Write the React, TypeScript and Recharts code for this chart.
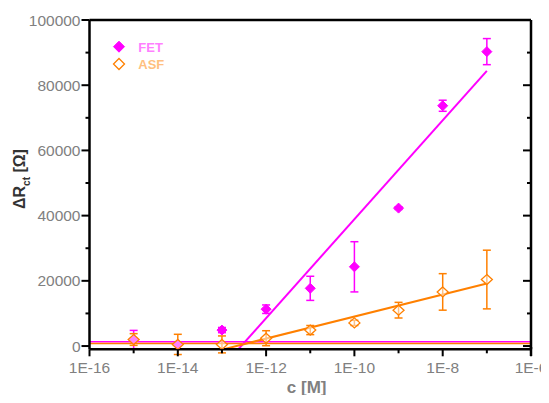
import { ComposedChart, Scatter, Line, XAxis, YAxis, ErrorBar, ReferenceLine } from "recharts"

// concentration grid (M), one tick per decade
const decades = [1e-16, 1e-15, 1e-14, 1e-13, 1e-12, 1e-11, 1e-10, 1e-9, 1e-8, 1e-7, 1e-6]
const yTicks = [0, 10000, 20000, 30000, 40000, 50000, 60000, 70000, 80000, 90000, 100000]

const conc = [1e-15, 1e-14, 1e-13, 1e-12, 1e-11, 1e-10, 1e-9, 1e-8, 1e-7]

const fetDelta = [2000, 500, 4900, 11300, 17700, 24300, 42300, 73700, 90300]
const fetErr = [2800, 0, 800, 1300, 3700, 7700, 400, 1700, 4000]

const asfDelta = [2000, 500, 500, 2400, 4900, 7100, 11000, 16600, 20400]
const asfErr = [1800, 3100, 2600, 2300, 1400, 800, 2400, 5600, 9000]

// linear fits (end points)
const fitConc = [1e-13, 1e-7]
const fetFit = [-6600, 84400]
const asfFit = [-1100, 19200]

const fetBlank = 1300
const asfBlank = 800

const MAGENTA = "#ff00ff"
const ORANGE = "#ff8000"
const FONT = "'Liberation Sans', Arial, sans-serif"

const fetData = conc.map((c, i) => ({ c, v: fetDelta[i], e: fetErr[i] }))
const asfData = conc.map((c, i) => ({ c, v: asfDelta[i], e: asfErr[i] }))
const fetFitData = fitConc.map((c, i) => ({ c, v: fetFit[i] }))
const asfFitData = fitConc.map((c, i) => ({ c, v: asfFit[i] }))

const expOf = (v: number) => Math.round(Math.log10(v))

const BottomTick = (props: any) => {
  const { x, y, payload } = props
  const e = expOf(payload.value)
  const major = e % 2 === 0
  return (
    <g>
      <line x1={x} y1={y} x2={x} y2={y + (major ? 7 : 4)} stroke="#000" strokeWidth={2} />
      {major && (
        <text x={x} y={y + 24} textAnchor="middle" fill="#808080" fontSize={15.5} fontFamily={FONT}>
          {`1E${e}`}
        </text>
      )}
    </g>
  )
}

const TopTick = (props: any) => {
  const { x, y, payload } = props
  const major = expOf(payload.value) % 2 === 0
  return <line x1={x} y1={y} x2={x} y2={y + (major ? 7 : 4)} stroke="#000" strokeWidth={2} />
}

const LeftTick = (props: any) => {
  const { x, y, payload } = props
  const major = payload.value % 20000 === 0
  return (
    <g>
      <line x1={x} y1={y} x2={x - (major ? 8 : 4)} y2={y} stroke="#000" strokeWidth={2} />
      {major && (
        <text x={x - 9} y={y + 5.5} textAnchor="end" fill="#808080" fontSize={15.5} fontFamily={FONT}>
          {payload.value}
        </text>
      )}
    </g>
  )
}

const RightTick = (props: any) => {
  const { x, y, payload } = props
  const major = payload.value % 20000 === 0
  return <line x1={x} y1={y} x2={x - (major ? 8 : 4)} y2={y} stroke="#000" strokeWidth={2} />
}

const FilledDiamond = (props: any) => {
  const { cx, cy } = props
  return <polygon points={`${cx},${cy - 5} ${cx + 5},${cy} ${cx},${cy + 5} ${cx - 5},${cy}`} fill={MAGENTA} stroke={MAGENTA} strokeWidth={1} />
}

const OpenDiamond = (props: any) => {
  const { cx, cy } = props
  return <polygon points={`${cx},${cy - 5} ${cx + 5.5},${cy} ${cx},${cy + 5} ${cx - 5.5},${cy}`} fill="#fff" fillOpacity={0.5} stroke={ORANGE} strokeWidth={1.3} />
}

export default function App() {
  return (
    <div style={{ position: "relative", width: 549, height: 403, margin: "-8px 0 -8px -8px" }}>
      <ComposedChart width={549} height={403} margin={{ top: 0, right: 0, bottom: 0, left: 0 }}>
        <XAxis
          xAxisId={0}
          dataKey="c"
          type="number"
          scale="log"
          domain={[1e-16, 1e-6]}
          allowDataOverflow
          ticks={decades}
          interval={0}
          height={53.7}
          tickSize={0}
          tickMargin={0}
          tickLine={false}
          axisLine={{ stroke: "#000", strokeWidth: 2.5 }}
          tick={<BottomTick />}
        />
        <XAxis
          xAxisId="top"
          orientation="top"
          type="number"
          scale="log"
          domain={[1e-16, 1e-6]}
          allowDataOverflow
          ticks={decades}
          interval={0}
          height={20}
          tickSize={0}
          tickMargin={0}
          tickLine={false}
          axisLine={{ stroke: "#000", strokeWidth: 2.5 }}
          tick={<TopTick />}
        />
        <YAxis
          yAxisId={0}
          dataKey="v"
          type="number"
          domain={[-1000, 100000]}
          allowDataOverflow
          ticks={yTicks}
          interval={0}
          width={89.5}
          tickSize={0}
          tickMargin={0}
          tickLine={false}
          axisLine={{ stroke: "#000", strokeWidth: 2.5 }}
          tick={<LeftTick />}
        />
        <YAxis
          yAxisId="right"
          orientation="right"
          type="number"
          domain={[-1000, 100000]}
          allowDataOverflow
          ticks={yTicks}
          interval={0}
          width={18}
          tickSize={0}
          tickMargin={0}
          tickLine={false}
          axisLine={{ stroke: "#000", strokeWidth: 2.5 }}
          tick={<RightTick />}
        />
        <ReferenceLine y={fetBlank} stroke={MAGENTA} strokeWidth={1.5} />
        <ReferenceLine y={asfBlank} stroke={ORANGE} strokeWidth={1.5} />
        <Line data={fetFitData} dataKey="v" stroke={MAGENTA} strokeWidth={2} dot={false} isAnimationActive={false} />
        <Line data={asfFitData} dataKey="v" stroke={ORANGE} strokeWidth={2} dot={false} isAnimationActive={false} />
        <Scatter data={fetData} dataKey="v" shape={<FilledDiamond />} isAnimationActive={false}>
          <ErrorBar dataKey="e" direction="y" width={4} stroke={MAGENTA} strokeWidth={1.5} />
        </Scatter>
        <Scatter data={asfData} dataKey="v" shape={<OpenDiamond />} isAnimationActive={false}>
          <ErrorBar dataKey="e" direction="y" width={4} stroke={ORANGE} strokeWidth={1.5} />
        </Scatter>
      </ComposedChart>
      <svg width={549} height={403} style={{ position: "absolute", left: 0, top: 0, pointerEvents: "none" }}>
        <line x1={531} y1={347} x2={531} y2={356} stroke="#000" strokeWidth={2.5} />
        <polygon points="119,41.2 124.5,46.7 119,52.2 113.5,46.7" fill={MAGENTA} stroke={MAGENTA} />
        <text x={138.3} y={51.5} fill="#ff80ff" fontSize={13} fontWeight="bold" fontFamily={FONT}>FET</text>
        <polygon points="119,58.5 124.5,64 119,69.5 113.5,64" fill="#fff" stroke={ORANGE} strokeWidth={1.3} />
        <text x={138.3} y={69} fill="#ffbf80" fontSize={13} fontWeight="bold" fontFamily={FONT}>ASF</text>
        <text x={306.7} y={393.3} textAnchor="middle" fill="#808080" fontSize={17} fontWeight="bold" fontFamily={FONT}>c [M]</text>
        <text x={25} y={179} transform="rotate(-90, 25, 179)" textAnchor="middle" fill="#333" fontSize={16} fontWeight="bold" fontFamily={FONT}>
          ΔR<tspan fontSize={10} dy={5}>ct</tspan>
          <tspan dy={-5}> [Ω]</tspan>
        </text>
      </svg>
    </div>
  )
}
